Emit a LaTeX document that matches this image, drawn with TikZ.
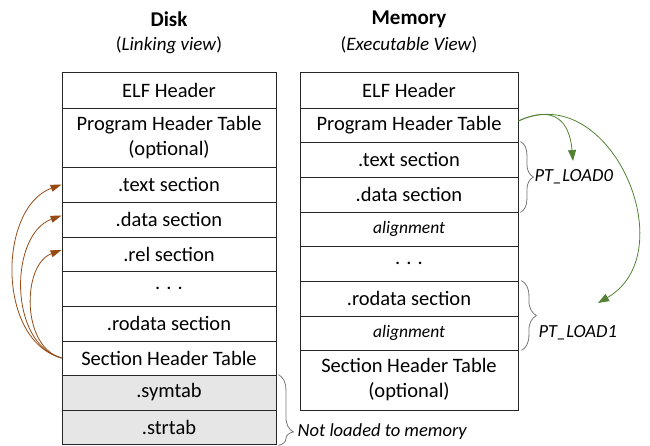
\documentclass[tikz,border=0pt]{standalone}
\usepackage{fontspec}
\setmainfont{Carlito}
\usetikzlibrary{arrows.meta,decorations.pathreplacing}
\definecolor{boxline}{RGB}{38,38,38}
\definecolor{unloaded}{RGB}{230,230,230}
\definecolor{linkbrown}{RGB}{150,75,20}
\definecolor{loadgreen}{RGB}{84,130,53}
\definecolor{bracegray}{RGB}{118,118,118}
\tikzset{
  sect/.style={draw=boxline, line width=0.8pt, inner sep=0pt, minimum height=35pt,
    align=center, font=\fontsize{20.5}{25}\selectfont},
  disk/.style={sect, minimum width=214pt},
  mem/.style={sect, minimum width=218pt},
  small/.style={font=\fontsize{17.5}{21}\selectfont\itshape},
  segbrace/.style={draw=bracegray, line width=0.8pt, decorate,
    decoration={brace, #1}},
  seglabel/.style={anchor=west, inner sep=0.5pt, font=\fontsize{18.5}{22}\selectfont\itshape},
  link/.style={draw=linkbrown, line width=0.8pt, -{Triangle[length=11pt,width=7pt]}},
  load/.style={draw=loadgreen, line width=0.8pt, -{Triangle[length=11pt,width=8pt]}}
}
\begin{document}
\begin{tikzpicture}[x=1pt,y=-1pt]
\useasboundingbox (0,0) rectangle (650,446);
% titles
\node (DISK) at (169,19) {\fontsize{21}{25}\selectfont\textbf{Disk}};
\node (DISKV) at (169,45) {\fontsize{19}{23}\selectfont(\textit{Linking view})};
\node (MEM) at (409,19) {\fontsize{21}{25}\selectfont\textbf{Memory}};
\node (MEMV) at (409,45) {\fontsize{19}{23}\selectfont(\textit{Executable View})};
% disk (linking view)
\node (DELF) [disk, minimum height=36pt] at (169,90) {ELF Header};
\node (DPHT) [disk, minimum height=59pt] at (169,137.5) {Program Header Table\\(optional)};
\node (DTEXT) [disk] at (169,184.5) {.text section};
\node (DDATA) [disk] at (169,219.5) {.data section};
\node (DREL) [disk, minimum height=34pt] at (169,254) {.rel section};
\node (DDOTS) [disk] at (169,288.5) {. . .};
\node (DRODATA) [disk] at (169,323.5) {.rodata section};
\node (DSHT) [disk, minimum height=34pt] at (169,358) {Section Header Table};
\node (DSYM) [disk, fill=unloaded] at (169,392.5) {.symtab};
\node (DSTR) [disk, fill=unloaded, minimum height=34pt] at (169,427) {.strtab};
% memory (executable view)
\node (MELF) [mem, minimum height=36pt] at (409,90) {ELF Header};
\node (MPHT) [mem, minimum height=34pt] at (409,125) {Program Header Table};
\node (MTEXT) [mem] at (409,159.5) {.text section};
\node (MDATA) [mem] at (409,194.5) {.data section};
\node (MALIGN) [mem, small, minimum height=34pt] at (409,229) {alignment};
\node (MDOTS) [mem] at (409,263.5) {. . .};
\node (MRODATA) [mem] at (409,298.5) {.rodata section};
\node (MALIGNB) [mem, small, minimum height=34pt] at (409,333) {alignment};
\node (MSHT) [mem, minimum height=60pt] at (409,380) {Section Header Table\\(optional)};
% segments
\draw [segbrace={amplitude=13pt, raise=2pt}] (MTEXT.north east) -- (MDATA.south east);
\node (LOAD0) [seglabel] at (534,177) {PT\_LOAD0};
\draw [segbrace={amplitude=15pt, raise=3pt}] (MRODATA.north east) -- (MALIGNB.south east);
\node (LOAD1) [seglabel] at (538,333) {PT\_LOAD1};
\coordinate (NLEND) at (DSTR.south east);
\draw [segbrace={amplitude=15pt, raise=2pt, aspect=0.81}] (DSYM.north east) -- ([yshift=-1pt]NLEND);
\node (NOTLD) [seglabel] at (297,432) {Not loaded to memory};
% section header table -> sections
\draw [link] (DSHT.west) to [out=165,in=200] (DTEXT.west);
\draw [link] (DSHT.west) to [out=165,in=200] ([yshift=4pt]DDATA.west);
\draw [link] (DSHT.west) to [out=165,in=200] ([yshift=4pt]DREL.west);
% program header table -> segments
\coordinate (L0) at (573,161);
\coordinate (L1) at (598,303);
\draw [load] ([yshift=4pt]MPHT.east) to [out=25,in=95,looseness=1.5] (L0);
\draw [load] ([yshift=4pt]MPHT.east) to [out=25,in=30,looseness=1.3] (L1);
\end{tikzpicture}
\end{document}
